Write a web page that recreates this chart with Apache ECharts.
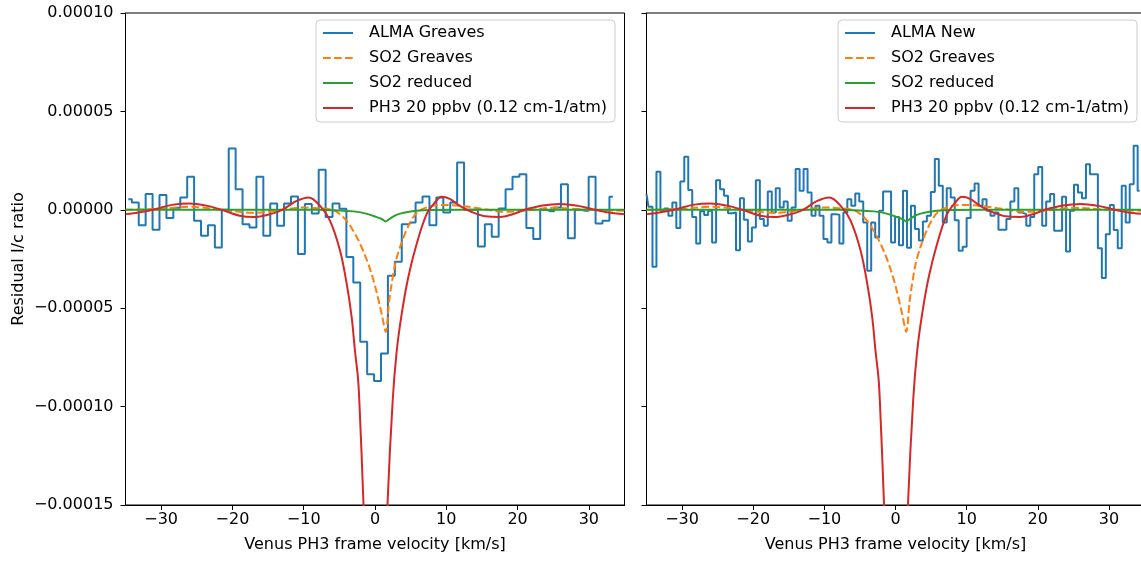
<!DOCTYPE html>
<html>
<head>
<meta charset="utf-8">
<script src="https://cdn.jsdelivr.net/npm/echarts@6/dist/echarts.min.js"></script>
<style>
  html, body { margin: 0; padding: 0; background: #fff; }
  #chart { width: 1141px; height: 561px; }
</style>
</head>
<body>
<div id="chart"></div>
<script>
// ---------------- DATA (residual values in units of 1e-5) ----------------
// Left panel: ALMA Greaves spectrum, channel grid
const leftChanStart = -34.6;   // km/s, first channel centre
const leftChanWidth = 0.971;   // km/s
const almaGreaves = [0.54,0.37,-0.78,0.80,-1.02,0.75,-0.42,0.1,0.63,1.68,-0.56,-1.32,-0.78,-1.91,0,3.12,1.05,-0.73,-0.9,1.68,-1.32,0.32,-0.81,0.32,0.68,-2.25,0.3,-0.19,2.04,-0.36,0.32,0.05,-2.4,-3.7,-6.7,-8.35,-8.7,-7.3,-3.35,-2.64,-0.73,-0.64,0.37,0.68,-0.78,0.63,-0.14,0.37,2.4,0,0,-1.86,-0.73,-1.37,0.07,1.05,1.68,1.81,-0.93,-1.49,0,-0.08,0.12,1.3,-1.44,0,-0.05,1.68,-0.69,-0.56,0.66];

// Right panel: ALMA New spectrum, channel grid
const rightChanStart = -35.0;
const rightChanWidth = 0.559;
const almaNew = [0.8,0.15,-2.9,1.93,-0.05,0.07,-0.3,0.37,-0.93,1.44,2.69,1.0,-0.36,-1.71,-0.08,-0.27,-0.05,-1.66,1.5,1.05,0.71,-0.17,-0.14,-2.05,0.59,-0.5,-1.61,-0.9,1.5,-0.47,-0.81,0.93,-0.14,1.1,0.12,0.42,-0.56,0.12,2.07,0.97,2.07,0.88,-0.3,0.2,-0.3,-1.49,-1.66,-0.22,-0.25,-1.71,-0.14,0.54,0.2,0.83,0.42,-0.64,-3.1,-0.64,-1.41,-0.05,0.93,0.93,-1.66,-0.36,-1.8,0.97,-1.93,0.2,-0.98,-1.56,-0.6,-0.3,0.9,2.58,1.22,-0.64,1.1,0.63,-0.53,-2.08,-1.88,-0.42,0.97,1.34,0.2,0.54,-0.05,-0.3,-0.14,-1.02,-1.02,-0.47,0.42,1.1,-0.14,-0.22,-0.81,-0.36,1.81,2.18,-0.81,0.42,0.8,-1.07,-1.07,0.66,-2.12,-0.05,1.27,0.88,0.59,2.32,1.81,1.81,-1.95,-3.47,-1.24,0.25,-1.03,-1.95,1.22,-0.64,1.3,3.25,0.97];

// Model curves: [velocity km/s, value 1e-5]
const so2Greaves = [[-35,0.0],[-30,0.05],[-26,0.15],[-21.5,0.0],[-17,-0.15],[-13,0],[-10,0.12],[-8,0.08],[-6,0.0],[-5,-0.2],[-4,-0.55],[-3,-1.1],[-2,-1.8],[-1,-2.7],[-0.2,-3.6],[0.5,-4.6],[1.0,-5.4],[1.5,-6.2],[2.0,-4.6],[2.5,-3.4],[3.0,-2.5],[4.0,-1.4],[5.0,-0.6],[6.0,-0.1],[7.5,0.15],[9,0.25],[12,0.2],[15,0.05],[18,-0.1],[21,-0.05],[25,0.1],[30,0.0],[35,-0.05]];
const so2Reduced = [[-35,0],[-8,0],[-5,-0.03],[-3,-0.08],[-2,-0.13],[-1,-0.22],[0,-0.34],[1,-0.48],[1.5,-0.59],[2.2,-0.42],[3,-0.26],[4.2,-0.14],[5.8,-0.05],[8,-0.01],[12,0],[35,0]];
const ph3 = [[-35,-0.22],[-33,-0.12],[-31,0.02],[-28.5,0.25],[-26,0.32],[-23.5,0.2],[-21.5,0],[-19,-0.3],[-17,-0.37],[-15,-0.25],[-13,0],[-11,0.45],[-9.3,0.63],[-7.7,0.2],[-6.3,-0.56],[-4.9,-2.08],[-3.96,-3.78],[-3.27,-5.47],[-2.8,-7.2],[-2.4,-8.5],[-2.2,-9.7],[-1.61,-15],[-1.2,-20],[-0.6,-26],[0.1,-28],[0.8,-26],[1.35,-20],[1.75,-15],[2.48,-9.7],[3.04,-7.2],[3.74,-5.3],[4.66,-3.44],[5.84,-1.74],[7.24,-0.22],[8.4,0.37],[9.34,0.66],[10.5,0.55],[11.9,0.2],[13.5,-0.1],[15.5,-0.33],[17.5,-0.36],[19.5,-0.2],[21,0],[23.5,0.22],[26,0.3],[28.5,0.2],[30.5,0.03],[32.5,-0.12],[35,-0.22]];

const xTicks = [-30,-20,-10,0,10,20,30];
const names = {
  almaL: 'ALMA Greaves', almaR: 'ALMA New',
  so2g: 'SO2 Greaves', so2r: 'SO2 reduced', ph3: 'PH3 20 ppbv (0.12 cm-1/atm)'
};
const xTitle = 'Venus PH3 frame velocity [km/s]';
const yTitle = 'Residual I/c ratio';

// ---------------- CHART ----------------
const FONT = 'DejaVu Sans';
const FS = 16;
const C = { blue:'#1f77b4', orange:'#ff7f0e', green:'#2ca02c', red:'#d62728' };
const minus = s => String(s).replace('-', '\u2212');

function stepData(start, width, vals) {
  return vals.map((v, i) => [start + i * width, v]);
}

function xAxis(idx) {
  return {
    gridIndex: idx, type: 'value', min: -35, max: 35,
    axisLine: { show: true, onZero: false, lineStyle: { color: '#000', width: 1 } },
    axisTick: { show: true, customValues: xTicks, length: 5, inside: false, lineStyle: { color: '#000' } },
    axisLabel: { customValues: xTicks, formatter: v => minus(v), color: '#000', fontSize: FS, fontFamily: FONT, margin: 7 },
    splitLine: { show: false },
    name: xTitle, nameLocation: 'middle', nameGap: 32,
    nameTextStyle: { color: '#000', fontSize: FS, fontFamily: FONT }
  };
}
function yAxis(idx, labels) {
  return {
    gridIndex: idx, type: 'value', min: -15, max: 10, interval: 5,
    axisLine: { show: true, onZero: false, lineStyle: { color: '#000', width: 1 } },
    axisTick: { show: true, length: 5, lineStyle: { color: '#000' } },
    axisLabel: { show: labels, formatter: v => minus((v * 1e-5).toFixed(5)), color: '#000', fontSize: FS, fontFamily: FONT, margin: 12 },
    splitLine: { show: false },
    name: labels ? yTitle : '', nameLocation: 'middle', nameGap: 99, nameRotate: 90,
    nameTextStyle: { color: '#000', fontSize: FS, fontFamily: FONT }
  };
}
function line(name, data, color, gi, opts) {
  return Object.assign({
    name, type: 'line', xAxisIndex: gi, yAxisIndex: gi, data,
    symbol: 'none', showSymbol: false, color,
    lineStyle: { color, width: 2 }, clip: true, animation: false
  }, opts || {});
}
function series(gi, almaName, alma, start, width) {
  return [
    line(almaName, stepData(start, width, alma), C.blue, gi, { step: 'middle', z: 2 }),
    line(names.so2g, so2Greaves, C.orange, gi, { smooth: 0.35, z: 3, lineStyle: { color: C.orange, width: 2, type: [7.7, 3.3] } }),
    line(names.so2r, so2Reduced, C.green, gi, { smooth: 0.35, z: 4 }),
    line(names.ph3, ph3, C.red, gi, { smooth: 0.35, z: 5 })
  ];
}
function legend(left, first) {
  return {
    orient: 'vertical', left, top: 20,
    data: [first, names.so2g, names.so2r, names.ph3],
    itemWidth: 30, itemHeight: 14, itemGap: 9,
    padding: [5, 8, 6, 6],
    borderColor: '#cccccc', borderWidth: 1, borderRadius: 4,
    backgroundColor: 'rgba(255,255,255,0.8)',
    selectedMode: false,
    itemStyle: { color: 'transparent', borderColor: 'transparent', borderWidth: 0, opacity: 0 },
    textStyle: { color: '#000', fontSize: FS, fontFamily: FONT, lineHeight: 16, padding: [0, 0, 0, 11] }
  };
}

const gridBase = { top: 13, height: 492, show: true, borderColor: '#000', borderWidth: 1, backgroundColor: 'transparent', containLabel: false, outerBoundsMode: 'none' };

const chart = echarts.init(document.getElementById('chart'), null, { renderer: 'canvas' });
chart.setOption({
  animation: false,
  backgroundColor: '#fff',
  textStyle: { fontFamily: FONT },
  grid: [
    Object.assign({ left: 125.5, width: 499 }, gridBase),
    Object.assign({ left: 646.5, width: 498 }, gridBase)
  ],
  xAxis: [xAxis(0), xAxis(1)],
  yAxis: [yAxis(0, true), yAxis(1, false)],
  legend: [legend(316, names.almaL), legend(838, names.almaR)],
  series: [
    ...series(0, names.almaL, almaGreaves, leftChanStart, leftChanWidth),
    ...series(1, names.almaR, almaNew, rightChanStart, rightChanWidth)
  ]
});
</script>
</body>
</html>
